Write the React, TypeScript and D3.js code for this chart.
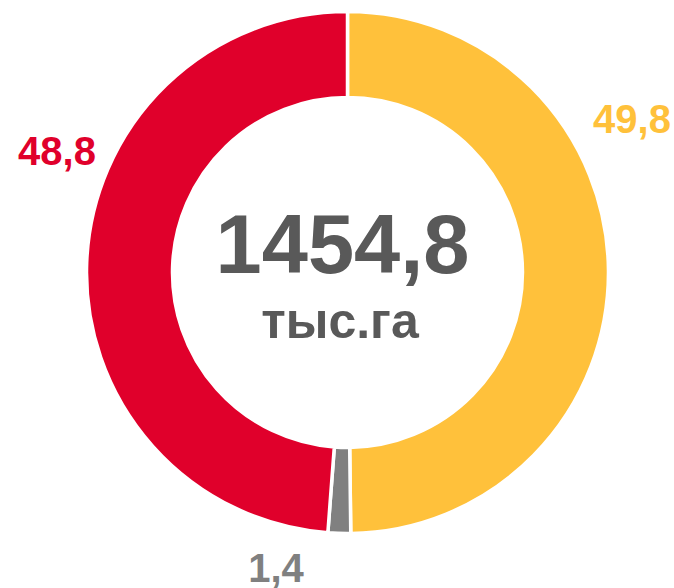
import React from "react";
import * as d3 from "d3";

const categories = ["A", "B", "C"];
const values = [49.8, 1.4, 48.8];
const labels = ["49,8", "1,4", "48,8"];
const colors = ["#FFC13B", "#808080", "#E0002B"];
const totalText = "1454,8";
const unitText = "тыс.га";

const W = 674;
const H = 588;
const cx = 347.5;
const cy = 272.5;
const outerR = 261;
const innerR = 175;

const labelPos: [number, number, string][] = [
  [632, 133, "middle"],
  [276, 582, "middle"],
  [57, 165, "middle"],
];

export default function App() {
  const pie = d3.pie<number>().sort(null).value((d) => d);
  const arcs = pie(values);
  const arcGen = d3.arc<d3.PieArcDatum<number>>().innerRadius(innerR).outerRadius(outerR);
  return (
    <svg
      width={W}
      height={H}
      style={{ position: "absolute", left: 0, top: 0 }}
      fontFamily="'Liberation Sans', Arial, sans-serif"
    >
      <rect width={W} height={H} fill="#fff" />
      <g transform={`translate(${cx},${cy})`}>
        {arcs.map((a, i) => (
          <path
            key={categories[i]}
            d={arcGen(a) || ""}
            fill={colors[i]}
            stroke="#fff"
            strokeWidth={3.5}
          />
        ))}
      </g>
      {labels.map((l, i) => (
        <text
          key={l}
          x={labelPos[i][0]}
          y={labelPos[i][1]}
          textAnchor={labelPos[i][2] as any}
          fill={colors[i]}
          fontWeight="bold"
          fontSize={40}
        >
          {l}
        </text>
      ))}
      <text x={342.5} y={273} textAnchor="middle" fill="#595959" fontWeight="bold" fontSize={83}>
        {totalText}
      </text>
      <text x={340} y={338} textAnchor="middle" fill="#595959" fontWeight="bold" fontSize={50}>
        {unitText}
      </text>
    </svg>
  );
}
